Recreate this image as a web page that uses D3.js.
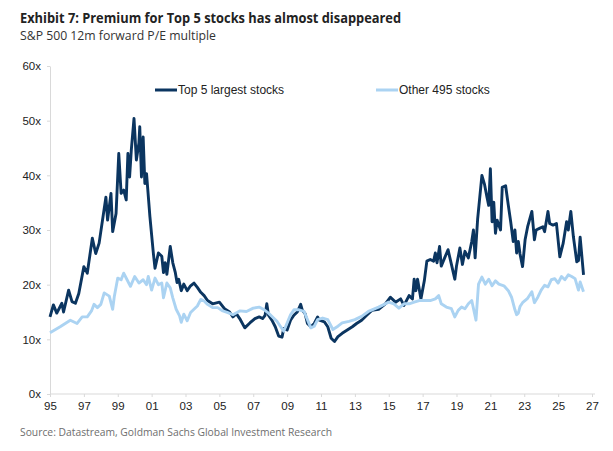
<!DOCTYPE html>
<html>
<head>
<meta charset="utf-8">
<script src="https://cdn.jsdelivr.net/npm/d3@7"></script>
<style>
  body { margin: 0; background: #fff; }
  svg { display: block; }
</style>
</head>
<body>
<script>
// S&P 500 12m forward P/E (decimal year, multiple)
var top5 = [
  [1995.0,14.1],[1995.2,16.3],[1995.4,14.8],[1995.7,16.6],[1995.8,15.0],[1996.1,19.0],
  [1996.3,16.9],[1996.5,16.6],[1996.7,18.4],[1997.0,23.3],[1997.2,22.1],[1997.5,28.5],
  [1997.7,25.7],[1997.9,27.6],[1998.3,36.0],[1998.4,31.8],[1998.6,36.7],[1998.7,29.7],
  [1998.9,33.0],[1999.06,44.0],[1999.2,36.7],[1999.35,37.3],[1999.5,35.5],[1999.6,44.0],
  [1999.7,39.7],[1999.8,44.6],[1999.96,50.4],[2000.1,42.8],[2000.25,45.9],[2000.3,48.9],
  [2000.4,39.7],[2000.5,47.0],[2000.6,38.5],[2000.7,40.3],[2000.9,32.4],[2001.1,25.8],
  [2001.2,23.0],[2001.4,25.8],[2001.6,25.2],[2001.7,22.2],[2001.8,24.0],[2001.9,21.9],
  [2002.1,27.0],[2002.25,24.0],[2002.4,22.2],[2002.5,20.4],[2002.6,21.0],[2002.75,18.9],
  [2002.9,20.1],[2003.1,18.9],[2003.3,19.8],[2003.5,20.3],[2003.7,19.5],[2003.9,18.6],
  [2004.1,18.0],[2004.3,17.1],[2004.6,16.5],[2005.0,16.8],[2005.3,15.6],[2005.6,15.0],
  [2005.8,14.1],[2006.0,14.7],[2006.2,13.8],[2006.5,12.1],[2006.8,13.0],[2007.1,13.8],
  [2007.35,14.1],[2007.55,13.8],[2007.7,14.4],[2007.8,16.5],[2007.9,14.4],[2008.1,13.5],
  [2008.3,12.3],[2008.5,10.6],[2008.7,10.4],[2008.8,12.0],[2009.0,11.7],[2009.2,13.5],
  [2009.4,14.4],[2009.6,15.0],[2009.8,16.4],[2009.9,15.3],[2010.06,14.7],[2010.2,12.9],
  [2010.4,12.3],[2010.6,12.9],[2010.8,14.1],[2010.9,13.5],[2011.2,13.2],[2011.4,12.3],
  [2011.6,10.2],[2011.8,9.6],[2012.0,10.5],[2012.25,11.1],[2012.55,11.7],[2012.85,12.3],
  [2013.1,12.9],[2013.4,13.5],[2013.7,14.4],[2014.0,15.3],[2014.4,15.5],[2014.8,16.5],
  [2015.1,17.7],[2015.4,16.8],[2015.7,17.4],[2015.9,16.2],[2016.2,18.0],[2016.4,17.4],
  [2016.5,21.0],[2016.6,18.9],[2016.7,21.0],[2016.9,17.4],[2017.1,20.7],[2017.25,24.3],
  [2017.45,24.6],[2017.65,24.3],[2017.75,25.8],[2017.85,24.0],[2018.0,27.0],[2018.1,23.4],
  [2018.3,24.9],[2018.5,26.4],[2018.7,23.7],[2018.9,21.0],[2019.0,23.4],[2019.2,26.7],
  [2019.35,23.7],[2019.5,26.1],[2019.7,24.9],[2019.9,27.9],[2020.0,30.0],[2020.1,24.9],
  [2020.25,32.1],[2020.5,40.0],[2020.65,38.4],[2020.8,36.0],[2020.9,34.5],[2021.0,41.2],
  [2021.1,31.5],[2021.2,35.1],[2021.3,29.4],[2021.4,31.8],[2021.6,30.0],[2021.7,37.8],
  [2021.9,38.1],[2022.06,34.5],[2022.2,31.5],[2022.35,27.9],[2022.45,30.0],[2022.55,25.8],
  [2022.65,27.9],[2022.75,25.6],[2022.9,23.3],[2023.05,28.2],[2023.2,30.6],[2023.45,33.4],
  [2023.6,28.2],[2023.7,30.0],[2023.9,30.3],[2024.1,30.6],[2024.2,29.7],[2024.4,33.4],
  [2024.5,31.2],[2024.7,30.9],[2024.9,31.2],[2025.1,25.1],[2025.3,27.6],[2025.5,31.5],
  [2025.6,30.0],[2025.75,33.4],[2025.9,28.8],[2026.1,24.2],[2026.2,24.4],[2026.3,28.7],
  [2026.5,21.8]
];

var other495 = [
  [1995.0,11.2],[1995.6,12.3],[1996.2,13.5],[1996.6,12.9],[1996.9,14.1],[1997.2,14.1],
  [1997.45,15.2],[1997.6,16.4],[1997.8,15.8],[1998.0,16.4],[1998.2,18.5],[1998.5,17.9],
  [1998.7,15.5],[1998.8,17.9],[1999.0,21.2],[1999.2,20.9],[1999.35,22.1],[1999.55,20.9],
  [1999.75,19.7],[2000.0,21.5],[2000.25,20.3],[2000.5,20.9],[2000.7,20.0],[2000.8,21.5],
  [2001.0,19.0],[2001.2,21.2],[2001.4,20.0],[2001.6,20.3],[2001.7,17.6],[2001.9,20.3],
  [2002.1,19.4],[2002.25,17.6],[2002.45,15.5],[2002.65,14.3],[2002.75,13.1],[2002.9,14.6],
  [2003.1,13.4],[2003.3,14.9],[2003.5,15.5],[2003.7,16.1],[2003.9,17.3],[2004.1,17.0],
  [2004.3,16.4],[2004.6,15.8],[2004.9,15.8],[2005.2,15.2],[2005.5,14.9],[2005.8,14.5],
  [2006.2,15.2],[2006.6,15.1],[2007.0,15.7],[2007.35,15.9],[2007.65,15.4],[2007.9,14.8],
  [2008.2,13.9],[2008.4,13.3],[2008.6,12.4],[2008.8,11.5],[2009.0,13.0],[2009.2,14.5],
  [2009.4,15.4],[2009.7,15.4],[2010.0,15.1],[2010.2,13.6],[2010.4,12.1],[2010.6,12.4],
  [2010.8,13.6],[2011.1,13.9],[2011.4,13.6],[2011.7,11.8],[2012.0,12.4],[2012.25,13.0],
  [2012.65,13.3],[2013.0,13.6],[2013.4,14.2],[2013.8,15.1],[2014.4,15.9],[2015.0,16.8],
  [2015.3,16.5],[2015.6,15.7],[2015.9,16.5],[2016.2,16.5],[2016.5,16.8],[2016.8,17.1],
  [2017.15,17.1],[2017.45,17.1],[2017.75,17.4],[2017.95,18.0],[2018.1,16.5],[2018.4,15.9],
  [2018.7,15.6],[2018.9,14.1],[2019.1,15.3],[2019.3,15.9],[2019.5,15.6],[2019.7,16.5],
  [2019.9,17.1],[2020.15,13.5],[2020.3,20.1],[2020.5,21.4],[2020.7,20.1],[2020.9,21.0],
  [2021.1,19.8],[2021.3,20.7],[2021.5,20.1],[2021.8,19.8],[2022.06,18.9],[2022.25,17.7],
  [2022.45,15.4],[2022.55,14.5],[2022.65,14.8],[2022.75,16.0],[2022.9,16.7],[2023.2,17.5],
  [2023.45,18.7],[2023.6,16.7],[2023.8,17.7],[2024.0,19.0],[2024.2,19.9],[2024.4,19.6],
  [2024.6,20.9],[2024.8,21.1],[2025.0,20.3],[2025.2,21.5],[2025.4,20.9],[2025.6,21.8],
  [2025.8,21.5],[2026.0,21.1],[2026.2,19.0],[2026.3,20.5],[2026.5,18.7]
];

var yTicks = [0, 10, 20, 30, 40, 50, 60];
var xTicks = d3.range(1995, 2028, 2);
var seriesNames = ["Top 5 largest stocks", "Other 495 stocks"];
var seriesColors = ["#0b3560", "#abd3f2"];

var width = 613, height = 451;
var margin = {top: 66, right: 21, bottom: 57, left: 50};

var svg = d3.select("body").append("svg")
    .attr("width", width)
    .attr("height", height);

var x = d3.scaleLinear()
    .domain([1995, 2027])
    .range([margin.left, 592]);

var y = d3.scaleLinear()
    .domain([0, 60])
    .range([height - margin.bottom, margin.top]);

// titles
svg.append("text")
    .attr("x", 20).attr("y", 23)
    .attr("font-family", "Open Sans").attr("font-weight", "bold")
    .attr("font-size", "14px").attr("fill", "#222")
    .attr("textLength", 381).attr("lengthAdjust", "spacingAndGlyphs")
    .text("Exhibit 7: Premium for Top 5 stocks has almost disappeared");

svg.append("text")
    .attr("x", 20).attr("y", 40)
    .attr("font-family", "Open Sans")
    .attr("font-size", "12px").attr("fill", "#333")
    .attr("textLength", 196).attr("lengthAdjust", "spacingAndGlyphs")
    .text("S&P 500 12m forward P/E multiple");

// y axis
var yAxis = svg.append("g")
    .attr("transform", "translate(" + margin.left + ",0)")
    .call(d3.axisLeft(y).tickValues(yTicks).tickSize(3).tickSizeOuter(0)
        .tickFormat(function (d) { return d + "x"; }));

// x axis
var xAxis = svg.append("g")
    .attr("transform", "translate(0," + y(0) + ")")
    .call(d3.axisBottom(x).tickValues(xTicks).tickSize(3).tickSizeOuter(0)
        .tickFormat(function (d) { return String(d % 100).padStart(2, "0"); }));

xAxis.select(".domain").attr("d", "M" + margin.left + ",0H595");

[yAxis, xAxis].forEach(function (ax) {
    ax.select(".domain").attr("stroke", "#d9d9d9");
    ax.selectAll(".tick line").attr("stroke", "#d9d9d9");
    ax.selectAll(".tick text")
        .attr("font-family", "Liberation Sans")
        .attr("font-size", "11.5px")
        .attr("fill", "#222");
});
yAxis.selectAll(".tick text").attr("x", -9);
xAxis.selectAll(".tick text").attr("y", 8);

// lines
var line = d3.line()
    .x(function (d) { return x(d[0]); })
    .y(function (d) { return y(d[1]); });

[top5, other495].forEach(function (s, i) {
    svg.append("path")
        .datum(s)
        .attr("fill", "none")
        .attr("stroke", seriesColors[i])
        .attr("stroke-width", 2.9)
        .attr("stroke-linejoin", "round")
        .attr("d", line);
});

// legend
var legendX = [155, 376];
seriesNames.forEach(function (name, i) {
    var g = svg.append("g").attr("transform", "translate(" + legendX[i] + ",90)");
    g.append("line")
        .attr("x1", 0).attr("x2", 22)
        .attr("stroke", seriesColors[i]).attr("stroke-width", 3);
    g.append("text")
        .attr("x", 23).attr("y", 4)
        .attr("font-family", "Liberation Sans").attr("font-size", "12px")
        .attr("fill", "#222")
        .text(name);
});

// source
svg.append("text")
    .attr("x", 20).attr("y", 436)
    .attr("font-family", "Open Sans")
    .attr("font-size", "11px").attr("fill", "#6e6e6e")
    .attr("textLength", 312).attr("lengthAdjust", "spacingAndGlyphs")
    .text("Source: Datastream, Goldman Sachs Global Investment Research");
</script>
</body>
</html>
